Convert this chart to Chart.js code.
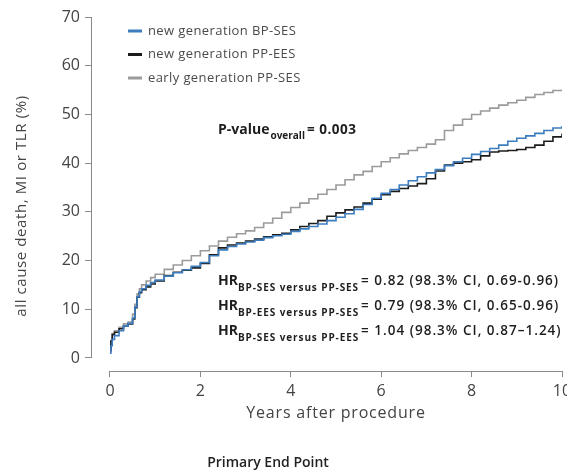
<!DOCTYPE html>
<html>
<head>
<meta charset="utf-8">
<script src="https://cdn.jsdelivr.net/npm/chart.js@4.4.1/dist/chart.umd.min.js"></script>
<style>
  html, body { margin: 0; padding: 0; background: #fff; }
  #wrap { width: 567px; height: 472px; position: relative; }
</style>
</head>
<body>
<div id="wrap"><canvas id="kmChart" width="567" height="472"></canvas></div>
<script>
// follow-up time (years)
const years = [0, 0.02, 0.05, 0.1, 0.2, 0.3, 0.4, 0.5, 0.55, 0.6, 0.65, 0.7, 0.8, 0.9, 1.0,
  1.2, 1.4, 1.6, 1.8, 2.0, 2.2, 2.4, 2.6, 2.8, 3.0, 3.2, 3.4, 3.6, 3.8, 4.0,
  4.2, 4.4, 4.6, 4.8, 5.0, 5.2, 5.4, 5.6, 5.8, 6.0, 6.2, 6.4, 6.6, 6.8, 7.0,
  7.2, 7.4, 7.6, 7.8, 8.0, 8.2, 8.4, 8.6, 8.8, 9.0, 9.2, 9.4, 9.6, 9.8, 10.0];

// cumulative incidence (%)
const bpSes = [1.0, 2.5, 3.8, 4.6, 5.6, 6.6, 7.1, 8.2, 10.5, 12.6, 13.6, 14.2, 14.9, 15.5, 16.0,
  16.8, 17.5, 18.1, 18.8, 19.6, 21.0, 22.2, 22.9, 23.4, 23.8, 24.2, 24.7, 25.1, 25.4, 26.0,
  26.5, 27.0, 27.5, 28.2, 28.9, 29.6, 30.5, 31.5, 32.8, 33.8, 34.6, 35.5, 36.4, 37.2, 38.0,
  38.7, 39.5, 40.3, 41.0, 41.8, 42.4, 43.0, 43.7, 44.5, 45.1, 45.6, 46.1, 46.7, 47.2, 47.6];
const ppEes = [1.5, 3.5, 4.8, 5.3, 6.0, 6.6, 7.0, 8.0, 10.3, 12.5, 13.4, 14.0, 14.6, 15.2, 15.8,
  16.9, 17.6, 18.0, 18.5, 19.4, 21.2, 22.6, 23.2, 23.6, 24.0, 24.4, 24.9, 25.3, 25.6, 26.3,
  27.0, 27.6, 28.2, 29.1, 29.8, 30.4, 31.0, 31.8, 32.6, 33.5, 34.2, 34.8, 35.3, 35.8, 36.8,
  38.4, 39.6, 40.0, 40.3, 40.7, 41.5, 42.3, 42.5, 42.6, 42.8, 43.2, 43.7, 44.5, 45.4, 46.1];
const ppSesEarly = [1.5, 3.5, 5.0, 5.6, 6.3, 7.0, 7.4, 9.0, 11.0, 13.2, 14.2, 15.0, 15.8, 16.5, 17.2,
  18.2, 19.1, 20.0, 21.0, 22.0, 23.0, 24.0, 24.8, 25.5, 26.1, 26.8, 27.7, 28.7, 29.9, 30.9,
  31.8, 32.7, 33.6, 34.6, 35.5, 36.6, 37.6, 38.3, 39.3, 40.3, 41.1, 41.9, 42.6, 43.2, 43.9,
  44.8, 46.7, 47.8, 49.0, 50.0, 50.7, 51.3, 51.9, 52.4, 52.9, 53.5, 54.1, 54.5, 54.9, 55.1];

const seriesLabels = ['new generation BP-SES', 'new generation PP-EES', 'early generation PP-SES'];
const seriesColors = ['#3c7dc0', '#1c1c1c', '#9b9b9b'];

const xTicks = [0, 2, 4, 6, 8, 10];
const yTicks = [0, 10, 20, 30, 40, 50, 60, 70];

const pValue = '= 0.003';
const hrSubs = ['BP-SES versus PP-SES', 'BP-EES versus PP-SES', 'BP-SES versus PP-EES'];
const hrValues = ['= 0.82 (98.3% CI, 0.69-0.96)', '= 0.79 (98.3% CI, 0.65-0.96)', '= 1.04 (98.3% CI, 0.87\u20131.24)'];

const FONT = "'Open Sans', 'DejaVu Sans', sans-serif";
const AXIS_COLOR = '#8a8a8a';

function toPoints(vals) {
    return years.map((t, i) => ({ x: t, y: vals[i] }));
}

// draws text pieces one after the other on a common baseline
function drawRich(ctx, x, y, parts) {
    parts.forEach(p => {
        ctx.font = p.font;
        ctx.letterSpacing = (p.ls || 0) + 'px';
        ctx.fillText(p.text, x, y + (p.dy || 0));
        x += ctx.measureText(p.text).width + (p.gap || 0);
    });
    ctx.letterSpacing = '0px';
}

const annotations = {
    id: 'annotations',
    afterDraw(chart) {
        const { ctx, chartArea } = chart;
        const xs = chart.scales.x;
        const ys = chart.scales.y;
        ctx.save();

        // detached axis lines
        ctx.strokeStyle = AXIS_COLOR;
        ctx.lineWidth = 1;
        ctx.beginPath();
        ctx.moveTo(chartArea.left + 0.5, ys.getPixelForValue(yTicks[0]));
        ctx.lineTo(chartArea.left + 0.5, ys.getPixelForValue(yTicks[yTicks.length - 1]));
        ctx.moveTo(xs.getPixelForValue(xTicks[0]), chartArea.bottom + 0.5);
        ctx.lineTo(xs.getPixelForValue(xTicks[xTicks.length - 1]), chartArea.bottom + 0.5);
        ctx.stroke();

        // axis titles
        ctx.fillStyle = '#444';
        ctx.textAlign = 'center';
        ctx.textBaseline = 'middle';
        ctx.font = '16px ' + FONT;
        ctx.letterSpacing = '0.8px';
        ctx.fillText('Years after procedure', 336, 413);
        ctx.save();
        ctx.translate(22, 206);
        ctx.rotate(-Math.PI / 2);
        ctx.font = '15px ' + FONT;
        ctx.letterSpacing = '0.6px';
        ctx.fillText('all cause death, MI or TLR (%)', 0, 0);
        ctx.restore();
        ctx.letterSpacing = '0px';

        // legend
        ctx.textBaseline = 'middle';
        ctx.textAlign = 'left';
        const rows = [31, 54.5, 78];
        seriesLabels.forEach((lab, i) => {
            ctx.fillStyle = seriesColors[i];
            ctx.fillRect(128, rows[i] - 1.5, 14, 3);
            ctx.fillStyle = '#4a4a4a';
            ctx.font = '13px ' + FONT;
            ctx.letterSpacing = '0.4px';
            ctx.fillText(lab, 148, rows[i]);
        });
        ctx.letterSpacing = '0px';

        // P-value
        ctx.textBaseline = 'alphabetic';
        ctx.fillStyle = '#1e1e1e';
        drawRich(ctx, 218, 134, [
            { text: 'P-value', font: 'bold 14px ' + FONT, gap: 1 },
            { text: 'overall', font: 'bold 10px ' + FONT, dy: 5, gap: 2 },
            { text: pValue, font: 'bold 13.5px ' + FONT, ls: 0.5 }
        ]);

        // hazard ratios
        hrSubs.forEach((sub, i) => {
            const base = 285 + i * 25;
            drawRich(ctx, 218, base, [
                { text: 'HR', font: 'bold 14px ' + FONT },
                { text: sub, font: 'bold 10px ' + FONT, dy: 6, gap: 2, ls: 0.9 },
                { text: hrValues[i], font: '600 13.5px ' + FONT, ls: 1 }
            ]);
        });

        // panel caption
        ctx.textAlign = 'center';
        ctx.textBaseline = 'middle';
        ctx.font = '600 14px ' + FONT;
        ctx.fillStyle = '#222';
        ctx.fillText('Primary End Point', 268, 463);

        ctx.restore();
    }
};

const ctx = document.getElementById('kmChart').getContext('2d');
new Chart(ctx, {
    type: 'line',
    data: {
        datasets: seriesLabels.map((lab, i) => ({
            label: lab,
            data: toPoints([bpSes, ppEes, ppSesEarly][i]),
            borderColor: seriesColors[i],
            borderWidth: 1.6,
            pointRadius: 0,
            stepped: true,
            fill: false,
            order: i
        }))
    },
    options: {
        responsive: false,
        animation: false,
        layout: { padding: { top: 17, right: 5, bottom: 45, left: 0 } },
        plugins: {
            legend: { display: false },
            tooltip: { enabled: false }
        },
        scales: {
            x: {
                type: 'linear',
                min: -0.42,
                max: 10,
                afterBuildTicks: scale => { scale.ticks = xTicks.map(v => ({ value: v })); },
                afterFit: scale => { scale.height = 56; scale.paddingLeft = 0; scale.paddingRight = 0; },
                grid: { display: true, drawOnChartArea: false, drawTicks: true, tickLength: 6, color: AXIS_COLOR },
                border: { display: false },
                ticks: { padding: 5, color: '#444', font: { family: FONT, size: 16 }, maxRotation: 0 },
                title: { display: false }
            },
            y: {
                type: 'linear',
                min: -2.67,
                max: 70,
                afterBuildTicks: scale => { scale.ticks = yTicks.map(v => ({ value: v })); },
                afterFit: scale => { scale.width = 91; },
                grid: { display: true, drawOnChartArea: false, drawTicks: true, tickLength: 6, color: AXIS_COLOR },
                border: { display: false },
                ticks: { padding: 5, color: '#444', font: { family: FONT, size: 16 } },
                title: { display: false }
            }
        }
    },
    plugins: [annotations]
});
</script>
</body>
</html>
